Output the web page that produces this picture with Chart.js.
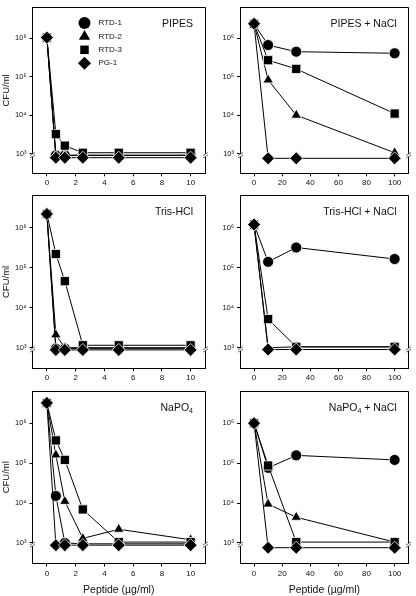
<!DOCTYPE html>
<html><head><meta charset="utf-8">
<script src="https://cdn.jsdelivr.net/npm/chart.js@4.4.1/dist/chart.umd.min.js"></script>
<style>
html,body{margin:0;padding:0;background:#fff;}
#wrap{position:relative;width:416px;height:596px;overflow:hidden;background:#fff;}
canvas{position:absolute;left:0;top:0;}
</style></head><body><div id="wrap">
<canvas id="c0" width="416" height="596"></canvas>
<canvas id="c1" width="416" height="596"></canvas>
<canvas id="c2" width="416" height="596"></canvas>
<canvas id="c3" width="416" height="596"></canvas>
<canvas id="c4" width="416" height="596"></canvas>
<canvas id="c5" width="416" height="596"></canvas>
</div>
<script>
// ---------- data ----------
const seriesNames = ['RTD-1', 'RTD-2', 'RTD-3', 'PG-1'];
const panelTitles = ['PIPES', 'PIPES + NaCl', 'Tris-HCl', 'Tris-HCl + NaCl', 'NaPO₄', 'NaPO₄ + NaCl'];
const lowDoses = [0, 0.625, 1.25, 2.5, 5, 10];
const highDoses = [0, 10, 30, 100];
const lowDoseTicks = [0, 2, 4, 6, 8, 10];
const highDoseTicks = [0, 20, 40, 60, 80, 100];
const cfuTicks = [1e3, 1e4, 1e5, 1e6];
const cfuTickLabels = ['10³', '10⁴', '10⁵', '10⁶'];
const yAxisTitle = 'CFU/ml';
const xAxisTitle = 'Peptide (µg/ml)';

const pipesRTD1 = [1.05e6, 900, 900, 900, 900, 900];
const pipesRTD2 = [1.05e6, 900, 900, 900, 900, 900];
const pipesRTD3 = [1.05e6, 3.2e3, 1.6e3, 1.05e3, 1.05e3, 1.05e3];
const pipesPG1  = [1.05e6, 780, 780, 780, 780, 780];

const pipesNaClRTD1 = [2.4e6, 6.7e5, 4.5e5, 4.1e5];
const pipesNaClRTD2 = [2.4e6, 8.3e4, 1.0e4, 1.05e3];
const pipesNaClRTD3 = [2.4e6, 2.7e5, 1.6e5, 1.1e4];
const pipesNaClPG1  = [2.4e6, 750, 750, 750];

const trisRTD1 = [2.2e6, 950, 950, 950, 950, 950];
const trisRTD2 = [2.2e6, 2.1e3, 1.0e3, 1.0e3, 1.0e3, 1.0e3];
const trisRTD3 = [2.2e6, 2.2e5, 4.6e4, 1.15e3, 1.15e3, 1.15e3];
const trisPG1  = [2.2e6, 880, 880, 880, 880, 880];

const trisNaClRTD1 = [1.2e6, 1.4e5, 3.2e5, 1.65e5];
const trisNaClRTD2 = [1.2e6, 1.0e3, 1.05e3, 1.05e3];
const trisNaClRTD3 = [1.2e6, 5.2e3, 1.05e3, 1.05e3];
const trisNaClPG1  = [1.2e6, 900, 900, 900];

const napoRTD1 = [3.2e6, 1.5e4, 1.0e3, 950, 950, 950];
const napoRTD2 = [3.2e6, 1.6e5, 1.1e4, 1.3e3, 2.2e3, 1.2e3];
const napoRTD3 = [3.2e6, 3.7e5, 1.2e5, 6.9e3, 1.05e3, 1.05e3];
const napoPG1  = [3.2e6, 880, 880, 880, 880, 880];

const napoNaClRTD1 = [1.0e6, 7.6e4, 1.56e5, 1.2e5];
const napoNaClRTD2 = [1.0e6, 9.4e3, 4.4e3, 1.05e3];
const napoNaClRTD3 = [1.0e6, 8.7e4, 1.05e3, 1.05e3];
const napoNaClPG1  = [1.0e6, 760, 760, 760];

// ---------- styling / layout ----------
const pointStyles = ['circle', 'triangle', 'rect', 'rectRot'];
const pointRadii = [5.5, 6, 6.5, 6.5];
const legendRadii = [6, 6.5, 6, 6.5];
const FONT = '"Liberation Sans", Arial, sans-serif';
const TEXT = '#111';
const Y_MIN = Math.pow(10, 2.485), Y_MAX = Math.pow(10, 6.805);
const BREAK_VALUE = Math.pow(10, 2.955);

const panels = [
  {id:'c0', title:panelTitles[0], doses:lowDoses, xTicks:lowDoseTicks, xMin:-1, xMax:11,
   series:[pipesRTD1, pipesRTD2, pipesRTD3, pipesPG1], area:{l:32.5, t:0.5, r:205, b:173.3}, yTitle:true, xTitle:false, legend:true},
  {id:'c1', title:panelTitles[1], doses:highDoses, xTicks:highDoseTicks, xMin:-10, xMax:110,
   series:[pipesNaClRTD1, pipesNaClRTD2, pipesNaClRTD3, pipesNaClPG1], area:{l:240, t:0.5, r:414.3, b:173.3}, yTitle:false, xTitle:false, legend:false},
  {id:'c2', title:panelTitles[2], doses:lowDoses, xTicks:lowDoseTicks, xMin:-1, xMax:11,
   series:[trisRTD1, trisRTD2, trisRTD3, trisPG1], area:{l:32.5, t:195.5, r:205, b:368.3}, yTitle:true, xTitle:false, legend:false},
  {id:'c3', title:panelTitles[3], doses:highDoses, xTicks:highDoseTicks, xMin:-10, xMax:110,
   series:[trisNaClRTD1, trisNaClRTD2, trisNaClRTD3, trisNaClPG1], area:{l:240, t:195.5, r:414.3, b:368.3}, yTitle:false, xTitle:false, legend:false},
  {id:'c4', title:panelTitles[4], doses:lowDoses, xTicks:lowDoseTicks, xMin:-1, xMax:11,
   series:[napoRTD1, napoRTD2, napoRTD3, napoPG1], area:{l:32.5, t:391, r:205, b:563.5}, yTitle:true, xTitle:true, legend:false},
  {id:'c5', title:panelTitles[5], doses:highDoses, xTicks:highDoseTicks, xMin:-10, xMax:110,
   series:[napoNaClRTD1, napoNaClRTD2, napoNaClRTD3, napoNaClPG1], area:{l:240, t:391, r:414.3, b:563.5}, yTitle:false, xTitle:true, legend:false}
];

function alignPx(v){ return Math.round(v - 0.5) + 0.5; }

function drawBreak(ctx, x, y){
  ctx.save();
  ctx.fillStyle = '#fff';
  ctx.fillRect(x - 1.5, y - 1.5, 3, 3);
  ctx.strokeStyle = '#444';
  ctx.lineWidth = 0.8;
  ctx.beginPath();
  ctx.moveTo(x - 2.5, y + 0.3); ctx.lineTo(x + 2.5, y - 2.7);
  ctx.moveTo(x - 2.5, y + 2.7); ctx.lineTo(x + 2.5, y - 0.3);
  ctx.stroke();
  ctx.restore();
}

function drawRichRight(ctx, text, right, baseline, size){
  const parts = text.split(/(₄)/).filter(s => s.length);
  const normal = size + 'px ' + FONT, small = (size * 0.68).toFixed(1) + 'px ' + FONT;
  let total = 0;
  const widths = parts.map(s => {
    ctx.font = (s === '₄') ? small : normal;
    const w = ctx.measureText(s === '₄' ? '4' : s).width;
    total += w; return w;
  });
  let x = right - total;
  ctx.textAlign = 'left';
  ctx.textBaseline = 'alphabetic';
  parts.forEach((s, i) => {
    if (s === '₄') { ctx.font = small; ctx.fillText('4', x, baseline + 2.5); }
    else { ctx.font = normal; ctx.fillText(s, x, baseline); }
    x += widths[i];
  });
}

function makePlugin(p){
  return {
    id: 'deco_' + p.id,
    afterDraw(chart){
      const ctx = chart.ctx, ca = chart.chartArea;
      const ys = chart.scales.y;
      const L = alignPx(ca.left), R = alignPx(ca.right), T = alignPx(ca.top), B = alignPx(ca.bottom);
      ctx.save();
      ctx.strokeStyle = '#000';
      ctx.lineWidth = 1;
      ctx.beginPath();
      ctx.moveTo(L, T); ctx.lineTo(R, T); ctx.lineTo(R, B);
      ctx.stroke();
      const yb = ys.getPixelForValue(BREAK_VALUE);
      drawBreak(ctx, L, yb);
      drawBreak(ctx, R, yb);
      ctx.fillStyle = TEXT;
      drawRichRight(ctx, p.title, ca.right - 12, ca.top + 19.5, 10.5);
      if (p.legend) {
        const x0 = ca.left + 52, y0 = ca.top + 15.5, dy = 13.4;
        seriesNames.forEach((name, i) => {
          ctx.fillStyle = '#000'; ctx.strokeStyle = '#000';
          Chart.helpers.drawPoint(ctx, {pointStyle: pointStyles[i], radius: legendRadii[i], rotation: 0, borderWidth: 0}, x0, y0 + i * dy);
          ctx.fillStyle = TEXT;
          ctx.font = '8px ' + FONT;
          ctx.textAlign = 'left'; ctx.textBaseline = 'middle';
          ctx.fillText(name, x0 + 14, y0 + i * dy);
        });
      }
      ctx.restore();
    }
  };
}

function makeChart(p){
  const datasets = seriesNames.map((name, i) => ({
    label: name,
    data: p.doses.map((d, j) => ({x: d, y: p.series[i][j]})),
    pointStyle: pointStyles[i],
    pointRadius: pointRadii[i],
    pointHoverRadius: pointRadii[i],
    pointBackgroundColor: '#000',
    pointBorderColor: '#fff',
    pointBorderWidth: 0.8,
    borderColor: '#000',
    borderWidth: 1,
    fill: false,
    tension: 0,
    order: 3 - i
  }));
  new Chart(document.getElementById(p.id), {
    type: 'line',
    data: {datasets},
    options: {
      responsive: false, animation: false, devicePixelRatio: 1, events: [],
      layout: {padding: {left: 0, top: p.area.t, right: 416 - p.area.r, bottom: 0}},
      plugins: {legend: {display: false}, tooltip: {enabled: false}, title: {display: false}},
      scales: {
        x: {
          type: 'linear', min: p.xMin, max: p.xMax,
          afterBuildTicks: s => { s.ticks = p.xTicks.map(v => ({value: v})); },
          afterFit: s => { s.height = 596 - p.area.b; },
          grid: {display: true, drawOnChartArea: false, drawTicks: true, tickLength: 3, color: '#000'},
          border: {display: true, color: '#000', width: 1},
          ticks: {font: {family: FONT, size: 8}, color: TEXT, padding: 2, maxRotation: 0, autoSkip: false},
          title: {display: p.xTitle, text: xAxisTitle, font: {family: FONT, size: 10.5}, color: TEXT, padding: {top: 0, bottom: 0}}
        },
        y: {
          type: 'logarithmic', min: Y_MIN, max: Y_MAX,
          afterBuildTicks: s => { s.ticks = cfuTicks.map(v => ({value: v})); },
          afterFit: s => { s.width = p.area.l; },
          grid: {display: true, drawOnChartArea: false, drawTicks: true, tickLength: 3, color: '#000'},
          border: {display: true, color: '#000', width: 1},
          ticks: {font: {family: FONT, size: 7.5}, color: TEXT, padding: 3, autoSkip: false,
                  callback: v => { const k = cfuTicks.indexOf(v); return k >= 0 ? cfuTickLabels[k] : ''; }},
          title: {display: p.yTitle, text: yAxisTitle, font: {family: FONT, size: 9.5}, color: TEXT, padding: {top: 1, bottom: 0}}
        }
      }
    },
    plugins: [makePlugin(p)]
  });
}

panels.forEach(makeChart);
</script>
</body></html>
